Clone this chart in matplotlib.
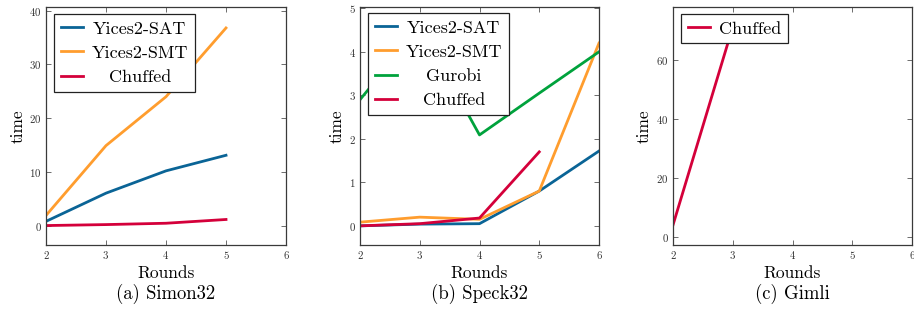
import matplotlib
matplotlib.use("Agg")
import matplotlib.pyplot as plt

plt.rcParams['font.family'] = ['cmr10', 'DejaVu Serif']
plt.rcParams['mathtext.fontset'] = 'cm'
plt.rcParams['axes.formatter.use_mathtext'] = True

# ---- data ----
rounds_simon = [2, 3, 4, 5]
simon_yices_sat = [0.8, 6.05, 10.2, 13.1]
simon_yices_smt = [1.9, 14.9, 24.0, 36.8]
simon_chuffed = [0.02, 0.2, 0.45, 1.15]

rounds_speck = [2, 3, 4, 5, 6]
speck_yices_sat = [0.0, 0.04, 0.05, 0.8, 1.72]
speck_yices_smt = [0.085, 0.2, 0.15, 0.8, 4.2]
speck_gurobi = [2.9, 4.57, 2.09, 3.05, 4.0]
rounds_speck_chuffed = [2, 3, 4, 5]
speck_chuffed = [0.0, 0.05, 0.18, 1.70]

rounds_gimli = [2, 3]
gimli_chuffed = [4.0, 71.4]

x_ticks = [2, 3, 4, 5, 6]
simon_yticks = [0, 10, 20, 30, 40]
speck_yticks = [0, 1, 2, 3, 4, 5]
gimli_yticks = [0, 20, 40, 60]
captions = ["(a) Simon32", "(b) Speck32", "(c) Gimli"]

C_BLUE = '#0a6496'
C_ORANGE = '#ff9d2e'
C_GREEN = '#00a23c'
C_RED = '#d4003a'

W, H = 914, 322
fig = plt.figure(figsize=(W / 100, H / 100), dpi=100)

def add_axes(left, right, top=7, bottom=245):
    return fig.add_axes([left / W, 1 - bottom / H, (right - left) / W, (bottom - top) / H])

axes = [add_axes(46, 286), add_axes(360, 599), add_axes(673, 912)]

LW = 2.0
a, b, c = axes
a.plot(rounds_simon, simon_yices_sat, color=C_BLUE, lw=LW, label='Yices2-SAT')
a.plot(rounds_simon, simon_yices_smt, color=C_ORANGE, lw=LW, label='Yices2-SMT')
a.plot(rounds_simon, simon_chuffed, color=C_RED, lw=LW, label='Chuffed')
a.set_ylim(-3.6, 40.7)
a.set_yticks(simon_yticks)

b.plot(rounds_speck, speck_yices_sat, color=C_BLUE, lw=LW, label='Yices2-SAT')
b.plot(rounds_speck, speck_yices_smt, color=C_ORANGE, lw=LW, label='Yices2-SMT')
b.plot(rounds_speck, speck_gurobi, color=C_GREEN, lw=LW, label='Gurobi')
b.plot(rounds_speck_chuffed, speck_chuffed, color=C_RED, lw=LW, label='Chuffed')
b.set_ylim(-0.44, 5.03)
b.set_yticks(speck_yticks)

c.plot(rounds_gimli, gimli_chuffed, color=C_RED, lw=LW, label='Chuffed')
c.set_ylim(-2.8, 78.2)
c.set_yticks(gimli_yticks)

legend_anchor = [(8 / 240, 1 - 7 / 238), (8 / 239, 1 - 6 / 238), (8 / 239, 1 - 7 / 238)]
ylabel_x = [-0.115, -0.098, -0.12]
renderer = fig.canvas.get_renderer()

for i, ax in enumerate(axes):
    ax.set_xlim(2, 6)
    ax.set_xticks(x_ticks)
    for s in ax.spines.values():
        s.set_color('#3a3a3a')
        s.set_linewidth(0.9)
    ax.tick_params(direction='in', top=True, right=True, length=3.5, width=0.6,
                   color='#555555', labelsize=7.8, labelcolor='#333333', pad=3)
    ax.set_xlabel('Rounds', fontsize=12.5)
    ax.set_ylabel('time', fontsize=12.5)
    ax.xaxis.set_label_coords(0.5, -28 / 238)
    ax.xaxis.label.set_va('center')
    ax.yaxis.set_label_coords(ylabel_x[i], 0.5)
    ax.yaxis.label.set_va('center')
    leg = ax.legend(loc='upper left', bbox_to_anchor=legend_anchor[i], borderaxespad=0,
                    fontsize=13, frameon=True, fancybox=False, framealpha=1,
                    edgecolor='#222222', handlelength=1.25, handletextpad=0.45,
                    labelspacing=0.48, borderpad=0.38)
    leg.get_frame().set_linewidth(0.9)
    # centre labels within the text column (pgfplots style)
    texts = leg.get_texts()
    widths = [t.get_window_extent(renderer).width for t in texts]
    mw = max(widths)
    for t, w in zip(texts, widths):
        t.set_x((mw - w) / 2)
    pos = ax.get_position()
    fig.text((pos.x0 + pos.x1) / 2, 1 - 294 / H, captions[i], ha='center', va='center',
             fontsize=13.5)

fig.savefig('out.png', dpi=100)
